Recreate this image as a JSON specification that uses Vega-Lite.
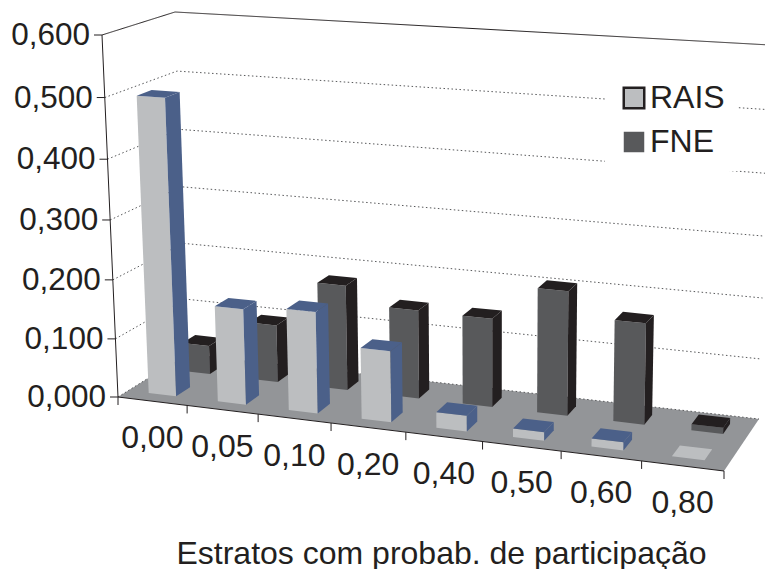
{"$schema":"https://vega.github.io/schema/vega-lite/v6.json","width":765,"height":569,"padding":0,"autosize":"none","background":"white",
"config":{"view":{"stroke":null},"font":"Liberation Sans"},
"datasets":{
"barras":[
{"estrato":"0,00","i":0,"serie":"FNE","valor":0.05},{"estrato":"0,05","i":1,"serie":"FNE","valor":0.099},{"estrato":"0,10","i":2,"serie":"FNE","valor":0.18},{"estrato":"0,20","i":3,"serie":"FNE","valor":0.15},{"estrato":"0,40","i":4,"serie":"FNE","valor":0.149},{"estrato":"0,50","i":5,"serie":"FNE","valor":0.207},{"estrato":"0,60","i":6,"serie":"FNE","valor":0.167},{"estrato":"0,80","i":7,"serie":"FNE","valor":0.01},
{"estrato":"0,00","i":0,"serie":"RAIS","valor":0.499},{"estrato":"0,05","i":1,"serie":"RAIS","valor":0.162},{"estrato":"0,10","i":2,"serie":"RAIS","valor":0.17},{"estrato":"0,20","i":3,"serie":"RAIS","valor":0.118},{"estrato":"0,40","i":4,"serie":"RAIS","valor":0.026},{"estrato":"0,50","i":5,"serie":"RAIS","valor":0.014},{"estrato":"0,60","i":6,"serie":"RAIS","valor":0.013},{"estrato":"0,80","i":7,"serie":"RAIS","valor":0}],
"eixo":[{"valor":0},{"valor":0.1},{"valor":0.2},{"valor":0.3},{"valor":0.4},{"valor":0.5},{"valor":0.6}],
"divisas":[{"n":0},{"n":1},{"n":2},{"n":3},{"n":4},{"n":5},{"n":6},{"n":7},{"n":8}],
"estrutura":[
{"linha":"piso","k":0,"c":0,"d":0,"valor":0},{"linha":"piso","k":1,"c":1,"d":0,"valor":0},{"linha":"piso","k":2,"c":1,"d":1,"valor":0},{"linha":"piso","k":3,"c":0,"d":1,"valor":0},
{"linha":"frente","k":0,"c":0,"d":0,"valor":0},{"linha":"frente","k":1,"c":1,"d":0,"valor":0},
{"linha":"esquerda","k":0,"c":0,"d":0,"valor":0},{"linha":"esquerda","k":1,"c":0,"d":0,"valor":0.6}]},
"encoding":{
"x":{"field":"px","type":"quantitative","scale":{"domain":[0,765],"nice":false,"zero":false},"axis":{"orient":"bottom","domain":false,"ticks":false,"labels":false,"grid":false,"title":"Estratos com probab. de participação","titleFont":"Liberation Sans","titleFontSize":32,"titleFontWeight":"normal","titleColor":"#231f20","titleX":441,"titleY":-16,"titleAnchor":"middle","titleAlign":"center","titleBaseline":"middle"}},
"y":{"field":"py","type":"quantitative","scale":{"domain":[569,0],"nice":false,"zero":false},"axis":null}},
"layer":[
{"data":{"name":"estrutura"},"transform":[{"filter":"datum.linha=='piso'"},
{"calculate":"datum.valor/0.6","as":"u"},
{"calculate":"0.9*datum.c+0.1*datum.c*datum.c","as":"cw"},{"calculate":"0.956*datum.u+0.044*datum.u*datum.u","as":"uw"},
{"calculate":"(1-datum.uw)*((1-datum.cw)*(1-datum.d)*118+datum.cw*(1-datum.d)*724+(1-datum.cw)*datum.d*187+datum.cw*datum.d*759)+datum.uw*((1-datum.cw)*(1-datum.d)*102+datum.cw*(1-datum.d)*733+(1-datum.cw)*datum.d*175+datum.cw*datum.d*770)","as":"px"},
{"calculate":"(1-datum.uw)*((1-datum.cw)*(1-datum.d)*397+datum.cw*(1-datum.d)*471+(1-datum.cw)*datum.d*354+datum.cw*datum.d*419)+datum.uw*((1-datum.cw)*(1-datum.d)*35+datum.cw*(1-datum.d)*74+(1-datum.cw)*datum.d*12+datum.cw*datum.d*45)","as":"py"}],
"mark":{"type":"line","fill":"#939598","strokeWidth":0,"clip":true},"encoding":{"order":{"field":"k","type":"quantitative"}}},
{"data":{"name":"eixo"},"transform":[{"calculate":"[0,1,2]","as":"k"},{"flatten":["k"]},{"calculate":"datum.k==2?1:0","as":"c"},{"calculate":"datum.k==0?0:1","as":"d"},
{"calculate":"datum.valor/0.6","as":"u"},
{"calculate":"0.9*datum.c+0.1*datum.c*datum.c","as":"cw"},{"calculate":"0.956*datum.u+0.044*datum.u*datum.u","as":"uw"},
{"calculate":"(1-datum.uw)*((1-datum.cw)*(1-datum.d)*118+datum.cw*(1-datum.d)*724+(1-datum.cw)*datum.d*187+datum.cw*datum.d*759)+datum.uw*((1-datum.cw)*(1-datum.d)*102+datum.cw*(1-datum.d)*733+(1-datum.cw)*datum.d*175+datum.cw*datum.d*770)","as":"px"},
{"calculate":"(1-datum.uw)*((1-datum.cw)*(1-datum.d)*397+datum.cw*(1-datum.d)*471+(1-datum.cw)*datum.d*354+datum.cw*datum.d*419)+datum.uw*((1-datum.cw)*(1-datum.d)*35+datum.cw*(1-datum.d)*74+(1-datum.cw)*datum.d*12+datum.cw*datum.d*45)","as":"py"},
{"calculate":"datum.valor<0.55?'grade':'topo'","as":"tipo"}],
"mark":{"type":"line","clip":true,"strokeWidth":1},
"encoding":{"detail":{"field":"valor"},"order":{"field":"k","type":"quantitative"},
"stroke":{"field":"tipo","type":"nominal","scale":{"domain":["grade","topo"],"range":["#58595b","#231f20"]},"legend":null},
"strokeDash":{"field":"tipo","type":"nominal","scale":{"domain":["grade","topo"],"range":[[1.5,2.5],[1,0]]},"legend":null}}},
{"data":{"name":"estrutura"},"transform":[{"filter":"datum.linha!='piso'"},
{"calculate":"datum.valor/0.6","as":"u"},
{"calculate":"0.9*datum.c+0.1*datum.c*datum.c","as":"cw"},{"calculate":"0.956*datum.u+0.044*datum.u*datum.u","as":"uw"},
{"calculate":"(1-datum.uw)*((1-datum.cw)*(1-datum.d)*118+datum.cw*(1-datum.d)*724+(1-datum.cw)*datum.d*187+datum.cw*datum.d*759)+datum.uw*((1-datum.cw)*(1-datum.d)*102+datum.cw*(1-datum.d)*733+(1-datum.cw)*datum.d*175+datum.cw*datum.d*770)","as":"px"},
{"calculate":"(1-datum.uw)*((1-datum.cw)*(1-datum.d)*397+datum.cw*(1-datum.d)*471+(1-datum.cw)*datum.d*354+datum.cw*datum.d*419)+datum.uw*((1-datum.cw)*(1-datum.d)*35+datum.cw*(1-datum.d)*74+(1-datum.cw)*datum.d*12+datum.cw*datum.d*45)","as":"py"}],
"mark":{"type":"line","color":"#231f20","strokeWidth":1},"encoding":{"detail":{"field":"linha"},"order":{"field":"k","type":"quantitative"}}},
{"data":{"name":"eixo"},"transform":[
{"calculate":"datum.valor/0.6","as":"u"},
{"calculate":"0.956*datum.u+0.044*datum.u*datum.u","as":"uw"},
{"calculate":"(1-datum.uw)*118+datum.uw*102","as":"px"},
{"calculate":"(1-datum.uw)*397+datum.uw*35","as":"py"},
{"calculate":"datum.px-8","as":"px2"},
{"calculate":"replace(format(datum.valor,'.3f'),'.',',')","as":"rotulo"}],
"layer":[
{"mark":{"type":"rule","color":"#231f20","strokeWidth":1},"encoding":{"x2":{"field":"px2"}}},
{"mark":{"type":"text","align":"right","baseline":"middle","dx":-12,"dy":1,"fontSize":31.5,"font":"Liberation Sans","color":"#231f20"},"encoding":{"text":{"field":"rotulo"}}}]},
{"data":{"name":"divisas"},"transform":[{"calculate":"datum.n/8","as":"c"},{"calculate":"0.9*datum.c+0.1*datum.c*datum.c","as":"cw"},
{"calculate":"118+606*datum.cw","as":"px"},{"calculate":"397+74*datum.cw","as":"py"},{"calculate":"datum.py+8","as":"py2"}],
"mark":{"type":"rule","color":"#231f20","strokeWidth":1},"encoding":{"y2":{"field":"py2"}}},
{"data":{"name":"barras"},"transform":[{"filter":"datum.serie=='RAIS'"},{"calculate":"(datum.i+0.5)/8","as":"c"},{"calculate":"0.9*datum.c+0.1*datum.c*datum.c","as":"cw"},
{"calculate":"118+606*datum.cw","as":"px"},{"calculate":"397+74*datum.cw","as":"py"}],
"mark":{"type":"text","align":"center","baseline":"middle","dy":37,"fontSize":32,"font":"Liberation Sans","color":"#231f20"},"encoding":{"text":{"field":"estrato"}}},
{"data":{"name":"barras"},"transform":[
{"calculate":"['frente','lado','topo']","as":"face"},{"flatten":["face"]},
{"calculate":"[0,1,2,3]","as":"k"},{"flatten":["k"]},
{"calculate":"(datum.i+0.3)/8","as":"c0"},{"calculate":"(datum.i+0.7)/8","as":"c1"},
{"calculate":"datum.serie=='RAIS'?0.15:0.66","as":"d0"},{"calculate":"datum.serie=='RAIS'?0.36:0.85","as":"d1"},
{"calculate":"datum.face=='lado'?datum.c1:((datum.k==0||datum.k==3)?datum.c0:datum.c1)","as":"c"},
{"calculate":"datum.face=='frente'?datum.d0:(datum.face=='lado'?((datum.k==0||datum.k==3)?datum.d0:datum.d1):(datum.k<2?datum.d0:datum.d1))","as":"d"},
{"calculate":"datum.face=='topo'?datum.valor/0.6:(datum.k<2?0:datum.valor/0.6)","as":"u"},
{"calculate":"0.9*datum.c+0.1*datum.c*datum.c","as":"cw"},{"calculate":"0.956*datum.u+0.044*datum.u*datum.u","as":"uw"},
{"calculate":"(1-datum.uw)*((1-datum.cw)*(1-datum.d)*118+datum.cw*(1-datum.d)*724+(1-datum.cw)*datum.d*187+datum.cw*datum.d*759)+datum.uw*((1-datum.cw)*(1-datum.d)*102+datum.cw*(1-datum.d)*733+(1-datum.cw)*datum.d*175+datum.cw*datum.d*770)","as":"px"},
{"calculate":"(1-datum.uw)*((1-datum.cw)*(1-datum.d)*397+datum.cw*(1-datum.d)*471+(1-datum.cw)*datum.d*354+datum.cw*datum.d*419)+datum.uw*((1-datum.cw)*(1-datum.d)*35+datum.cw*(1-datum.d)*74+(1-datum.cw)*datum.d*12+datum.cw*datum.d*45)","as":"py"},
{"calculate":"datum.serie+'-'+datum.estrato+'-'+datum.face","as":"poligono"},
{"calculate":"(datum.valor==0&&datum.face=='topo')?'RAIS':(datum.face=='frente'?datum.serie:datum.serie+' '+datum.face)","as":"tom"}],
"mark":{"type":"line","strokeWidth":0},
"encoding":{"detail":{"field":"poligono"},"order":{"field":"k","type":"quantitative"},
"fill":{"field":"tom","type":"nominal","scale":{"domain":["RAIS","FNE","RAIS lado","RAIS topo","FNE lado","FNE topo"],"range":["#bcbec0","#58595b","#4b6089","#4b6089","#231f20","#231f20"]},
"legend":{"values":["RAIS","FNE"],"title":null,"orient":"none","legendX":605,"legendY":69,"padding":13,"fillColor":"white","symbolType":"square","symbolSize":420,"symbolStrokeWidth":2.5,"symbolOpacity":1,"labelFont":"Liberation Sans","labelFontSize":32,"labelColor":"#231f20","labelOffset":0,"rowPadding":12,"encoding":{"symbols":{"stroke":{"value":{"expr":"datum.value=='RAIS'?'#231f20':'transparent'"}}}}}}}}
]}
